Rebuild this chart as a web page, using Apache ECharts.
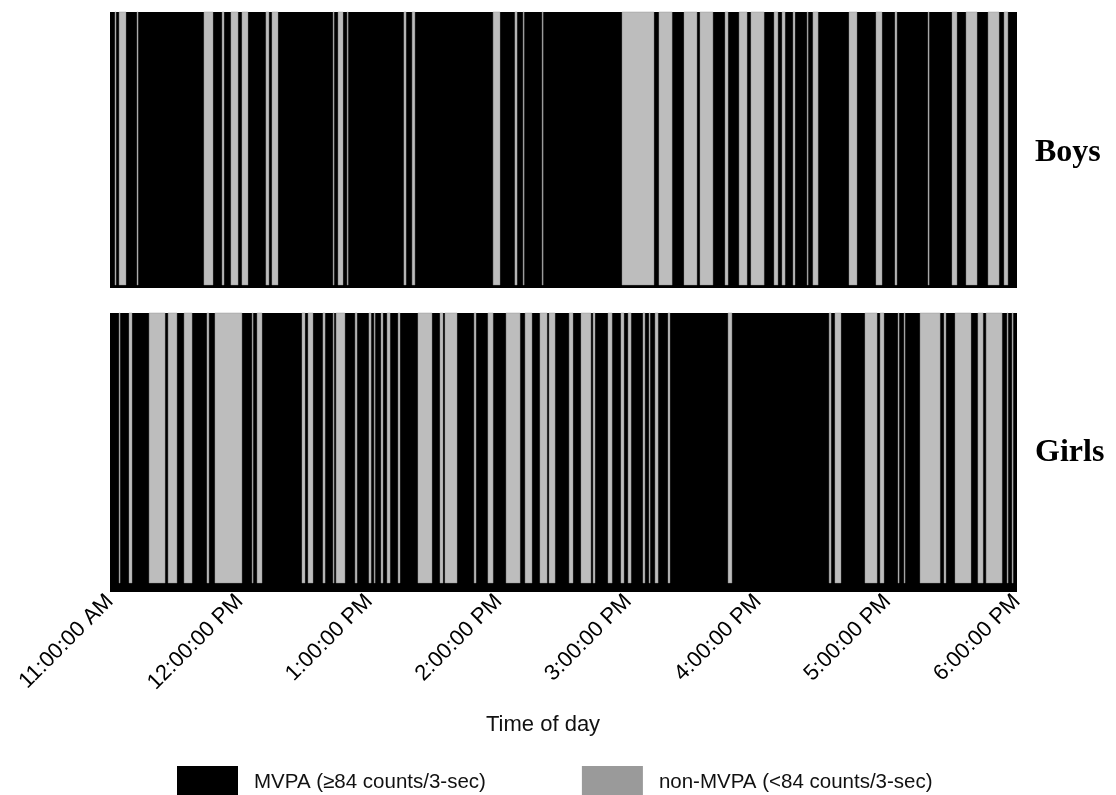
<!DOCTYPE html>
<html lang="en">
<head>
  <meta charset="UTF-8">
  <title>MVPA by time of day</title>
  <style>
    html, body { margin: 0; padding: 0; background: #fff; }
    #chart { width: 1116px; height: 795px; }
  </style>
</head>
<body>
  <div id="chart"></div>
  <script src="https://cdn.jsdelivr.net/npm/echarts@6/dist/echarts.min.js"></script>
  <script>
    // minutes after 11:00 AM
    var sessionSpan = [[0, 420]];
    var tickLabels = ['11:00:00 AM', '12:00:00 PM', '1:00:00 PM', '2:00:00 PM', '3:00:00 PM', '4:00:00 PM', '5:00:00 PM', '6:00:00 PM'];

    // non-MVPA bouts (start, end) in minutes after 11:00 AM
    var boysNonMvpa = [
      [2.3, 2.8], [4.2, 7.4], [12.5, 13.0], [43.5, 47.7], [51.9, 52.8], [56.0, 59.3],
      [61.1, 63.9], [72.2, 73.6], [75.0, 77.8], [103.3, 103.7], [105.6, 107.9],
      [109.8, 110.2], [136.1, 137.1], [139.9, 141.2], [177.4, 180.6], [187.5, 188.5],
      [191.3, 191.7], [200.1, 200.5], [237.1, 251.9], [254.2, 260.3], [265.8, 271.8],
      [273.2, 279.2], [284.8, 286.2], [291.3, 295.0], [296.8, 302.9], [307.5, 309.3],
      [311.2, 312.6], [316.3, 317.2], [322.8, 323.2], [325.5, 327.9], [342.2, 345.9],
      [354.7, 357.5], [363.5, 364.4], [378.8, 379.3], [389.9, 392.2], [396.4, 401.5],
      [406.6, 411.7], [414.0, 415.8]
    ];
    var girlsNonMvpa = [
      [4.2, 4.6], [8.8, 10.2], [18.1, 25.5], [26.9, 31.0], [34.3, 38.0], [44.9, 45.8],
      [48.6, 61.1], [65.8, 66.2], [68.1, 70.4], [88.9, 90.3], [91.7, 94.0], [98.6, 99.6],
      [103.3, 103.7], [104.7, 108.8], [113.5, 114.4], [119.9, 120.9], [122.3, 122.7],
      [125.5, 126.4], [128.3, 129.7], [133.4, 134.3], [142.6, 149.1], [152.8, 154.2],
      [155.1, 160.7], [168.6, 169.5], [175.0, 177.4], [183.4, 189.9], [192.2, 195.4],
      [199.1, 202.4], [203.3, 206.1], [212.6, 214.4], [218.1, 222.7], [223.7, 224.6],
      [230.6, 232.5], [236.6, 238.0], [239.9, 241.3], [246.8, 247.7], [249.6, 250.1],
      [252.4, 253.8], [258.4, 259.3], [286.2, 288.0], [333.0, 333.9], [335.7, 338.5],
      [349.6, 355.2], [356.6, 358.4], [364.9, 365.4], [367.7, 368.1], [375.1, 384.4],
      [386.2, 387.1], [391.3, 398.7], [401.9, 404.3], [405.7, 413.1], [415.4, 415.8],
      [417.7, 418.2]
    ];

    var MVPA = 'MVPA (\u226584 counts/3-sec)';
    var NON_MVPA = 'non-MVPA (<84 counts/3-sec)';

    function boutRenderer(band) {
      return function (params, api) {
        var p0 = api.coord([api.value(0), 1]);
        var p1 = api.coord([api.value(1), 0]);
        var h = p1[1] - p0[1] - band;
        return {
          type: 'rect',
          shape: { x: p0[0], y: p0[1], width: Math.max(p1[0] - p0[0], 1), height: h },
          style: api.style()
        };
      };
    }

    function panelSeries(idx, bouts, band) {
      return [
        {
          name: MVPA,
          type: 'custom',
          xAxisIndex: idx,
          yAxisIndex: idx,
          renderItem: boutRenderer(0),
          itemStyle: { color: '#000' },
          encode: { x: [0, 1] },
          data: sessionSpan,
          silent: true
        },
        {
          name: NON_MVPA,
          type: 'custom',
          xAxisIndex: idx,
          yAxisIndex: idx,
          renderItem: boutRenderer(band),
          itemStyle: { color: '#bdbdbd', borderColor: '#8a8a8a', borderWidth: 0.4 },
          encode: { x: [0, 1] },
          data: bouts,
          silent: true
        }
      ];
    }

    function xAxisBase(idx, showLabels) {
      return {
        type: 'value',
        gridIndex: idx,
        min: 0,
        max: 420,
        interval: 60,
        axisLine: { show: false },
        axisTick: { show: false },
        splitLine: { show: false },
        axisLabel: {
          show: showLabels,
          rotate: 45,
          margin: 6,
          color: '#000',
          fontFamily: 'Liberation Sans',
          fontSize: 22,
          formatter: function (v) { return tickLabels[Math.round(v / 60)]; }
        }
      };
    }

    function yAxisBase(idx) {
      return { type: 'value', gridIndex: idx, min: 0, max: 1, show: false };
    }

    var chart = echarts.init(document.getElementById('chart'));
    chart.setOption({
      animation: false,
      backgroundColor: '#fff',
      grid: [
        { left: 110, top: 12, width: 907, height: 276 },
        { left: 110, top: 313, width: 907, height: 279 }
      ],
      xAxis: [xAxisBase(0, false), xAxisBase(1, true)],
      yAxis: [yAxisBase(0), yAxisBase(1)],
      legend: {
        left: 172,
        top: 761,
        itemWidth: 61,
        itemHeight: 32,
        itemGap: 96,
        icon: 'rect',
        textStyle: { fontFamily: 'Liberation Sans', fontSize: 20.5, color: '#111', padding: [0, 0, 0, 11] },
        data: [
          { name: MVPA, itemStyle: { color: '#000' } },
          { name: NON_MVPA, itemStyle: { color: '#9a9a9a', borderWidth: 0 } }
        ],
        selectedMode: false
      },
      graphic: [
        { type: 'text', left: 1035, top: 137, style: { text: 'Boys', font: 'bold 32px "Liberation Serif"', fill: '#000' } },
        { type: 'text', left: 1035, top: 437, style: { text: 'Girls', font: 'bold 32px "Liberation Serif"', fill: '#000' } },
        { type: 'text', left: 486, top: 714, style: { text: 'Time of day', font: '22px "Liberation Sans"', fill: '#111' } }
      ],
      series: panelSeries(0, boysNonMvpa, 3).concat(panelSeries(1, girlsNonMvpa, 9))
    });
  </script>
</body>
</html>
